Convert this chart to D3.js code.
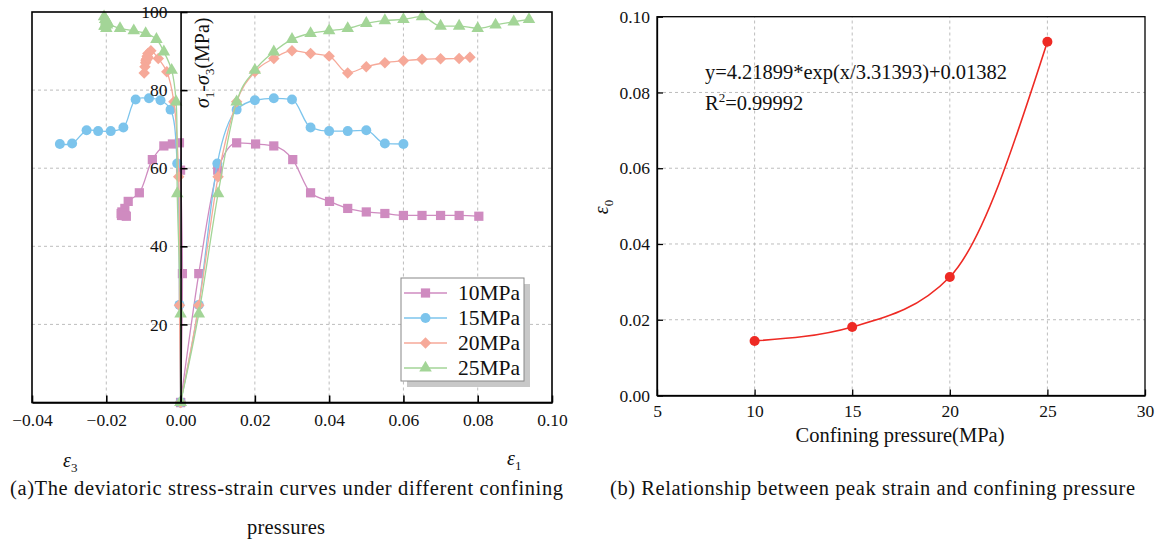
<!DOCTYPE html>
<html><head><meta charset="utf-8">
<script src="https://cdn.jsdelivr.net/npm/d3@7"></script>
<style>
html,body{margin:0;padding:0;background:#fff;}
svg{display:block;}
svg text{font-family:"Liberation Serif","Times New Roman",serif !important;}
</style></head><body>
<svg id="c" width="1158" height="539"></svg>
<script>
// ---------- data: (a) deviatoric stress-strain ----------
const pressures = ["10MPa", "15MPa", "20MPa", "25MPa"];
const colors = ["#cf8bc0", "#7cc4ec", "#f6a999", "#a3d597"];

const stress10 = [0, 33.0, 59.5, 66.5, 66.2, 65.7, 62.2, 53.7, 51.5, 49.7, 48.8, 48.4, 47.9, 47.9, 47.9, 47.9, 47.7];
const eps1_10  = [0, 0.0049, 0.0100, 0.0151, 0.0202, 0.0251, 0.0302, 0.0350, 0.0401, 0.0450, 0.0500, 0.0550, 0.0600, 0.0650, 0.0700, 0.0750, 0.0803];
const eps3_10  = [0, 0.0005, 0.0000, -0.0003, -0.0022, -0.0045, -0.0076, -0.0111, -0.0141, -0.0150, -0.0158, -0.0160, -0.0159, -0.0156, -0.0152, -0.0149, -0.0146];

const stress15 = [0, 25.0, 61.2, 75.0, 77.4, 77.9, 77.6, 70.4, 69.5, 69.5, 69.7, 66.3, 66.2];
const eps1_15  = [0, 0.0049, 0.0099, 0.0151, 0.0200, 0.0251, 0.0300, 0.0350, 0.0400, 0.0450, 0.0500, 0.0550, 0.0600];
const eps3_15  = [0, -0.0003, -0.0009, -0.0027, -0.0054, -0.0085, -0.0121, -0.0154, -0.0188, -0.0222, -0.0253, -0.0292, -0.0325];

const stress20 = [0, 24.9, 57.8, 77.0, 84.7, 88.1, 90.1, 89.4, 88.7, 84.4, 86.0, 87.0, 87.5, 87.9, 88.0, 88.1, 88.4];
const eps1_20  = [0, 0.0049, 0.0101, 0.0151, 0.0200, 0.0251, 0.0300, 0.0350, 0.0400, 0.0450, 0.0500, 0.0550, 0.0600, 0.0650, 0.0700, 0.0750, 0.0779];
const eps3_20  = [0, -0.0003, -0.0005, -0.0018, -0.0037, -0.0060, -0.0080, -0.0088, -0.0090, -0.0098, -0.0096, -0.0094, -0.0093, -0.0092, -0.0090, -0.0089, -0.0088];

const stress25 = [0, 22.7, 53.5, 77.0, 85.1, 89.8, 93.0, 94.5, 95.2, 95.8, 97.1, 97.8, 98.1, 98.8, 96.4, 96.4, 95.8, 96.7, 97.5, 98.1];
const eps1_25  = [0, 0.0049, 0.0101, 0.0151, 0.0200, 0.0251, 0.0300, 0.0350, 0.0400, 0.0450, 0.0500, 0.0550, 0.0600, 0.0650, 0.0700, 0.0750, 0.0800, 0.0848, 0.0897, 0.0938];
const eps3_25  = [0, 0.0000, -0.0009, -0.0012, -0.0024, -0.0045, -0.0065, -0.0094, -0.0126, -0.0163, -0.0195, -0.0200, -0.0203, -0.0206, -0.0205, -0.0203, -0.0200, -0.0198, -0.0200, -0.0202];

const strainTicks = [-0.04, -0.02, 0.00, 0.02, 0.04, 0.06, 0.08, 0.10];
const stressTicks = [20, 40, 60, 80, 100];

// ---------- data: (b) peak strain vs confining pressure ----------
const confining = [10, 15, 20, 25];
const peakStrain = [0.0144, 0.0181, 0.0313, 0.0934];
const pressureTicks = [5, 10, 15, 20, 25, 30];
const peakTicks = [0.00, 0.02, 0.04, 0.06, 0.08, 0.10];

// ---------- drawing ----------
const svg = d3.select("#c");
svg.append("rect").attr("width", 1158).attr("height", 539).attr("fill", "#fff");

const FAM = '"Liberation Serif","Times New Roman",serif';
const gridStyle = g => g.attr("stroke", "#bdbdbd").attr("stroke-width", 1).attr("stroke-dasharray", "3,3");

// ===== chart (a) =====
const xa = d3.scaleLinear().domain([-0.04, 0.10]).range([32, 552]);
const ya = d3.scaleLinear().domain([0, 100]).range([402.5, 12]);
const A = svg.append("g");

A.append("g").selectAll("line").data(strainTicks.filter(d => d > -0.04 && d < 0.10 && Math.abs(d) > 1e-9))
  .join("line").attr("x1", d => xa(d)).attr("x2", d => xa(d)).attr("y1", ya(0)).attr("y2", ya(100)).call(gridStyle);
A.append("g").selectAll("line").data(stressTicks.filter(d => d < 100))
  .join("line").attr("x1", xa(-0.04)).attr("x2", xa(0.10)).attr("y1", d => ya(d)).attr("y2", d => ya(d)).call(gridStyle);

const seriesA = [
  {name: pressures[0], color: colors[0], s: stress10, e1: eps1_10, e3: eps3_10, sym: "square"},
  {name: pressures[1], color: colors[1], s: stress15, e1: eps1_15, e3: eps3_15, sym: "circle"},
  {name: pressures[2], color: colors[2], s: stress20, e1: eps1_20, e3: eps3_20, sym: "diamond"},
  {name: pressures[3], color: colors[3], s: stress25, e1: eps1_25, e3: eps3_25, sym: "triangle"}
];
function symPath(t) {
  if (t === "square") return d3.symbol(d3.symbolSquare, 85)();
  if (t === "circle") return d3.symbol(d3.symbolCircle, 78)();
  if (t === "diamond") return d3.symbol(d3.symbolSquare, 66)();
  return d3.symbol(d3.symbolTriangle, 68)();
}
function symRot(t) { return t === "diamond" ? " rotate(45)" : ""; }

const line1 = d3.line().x(d => xa(d[0])).y(d => ya(d[1])).curve(d3.curveMonotoneX);
const line3 = d3.line().x(d => xa(d[0])).y(d => ya(d[1])).curve(d3.curveCatmullRom.alpha(0.5));

seriesA.forEach(S => {
  const p1 = S.s.map((v, i) => [S.e1[i], v]);
  const p3 = S.s.map((v, i) => [S.e3[i], v]);
  const g = A.append("g");
  g.append("path").attr("d", line1(p1)).attr("fill", "none").attr("stroke", S.color).attr("stroke-width", 1.3);
  g.append("path").attr("d", line3(p3)).attr("fill", "none").attr("stroke", S.color).attr("stroke-width", 1.3);
  const path = symPath(S.sym);
  g.selectAll("path.m1").data(p1).join("path").attr("class", "m1").attr("d", path)
    .attr("transform", d => `translate(${xa(d[0])},${ya(d[1])})` + symRot(S.sym)).attr("fill", S.color);
  g.selectAll("path.m3").data(p3).join("path").attr("class", "m3").attr("d", path)
    .attr("transform", d => `translate(${xa(d[0])},${ya(d[1])})` + symRot(S.sym)).attr("fill", S.color);
});

A.append("rect").attr("x", xa(-0.04)).attr("y", ya(100)).attr("width", xa(0.10) - xa(-0.04)).attr("height", ya(0) - ya(100))
  .attr("fill", "none").attr("stroke", "#000").attr("stroke-width", 1.6);

const xAxisA = A.append("g").attr("transform", `translate(0,${ya(0)})`)
  .call(d3.axisBottom(xa).tickValues(strainTicks).tickFormat(d3.format(".2f")).tickSizeInner(-7).tickSizeOuter(0).tickPadding(11));
xAxisA.attr("font-family", FAM).attr("font-size", 17.5);
xAxisA.select(".domain").attr("stroke-width", 1.6);
xAxisA.selectAll(".tick line").attr("stroke-width", 1.6);
xAxisA.selectAll("text").attr("fill", "#111");

const yAxisA = A.append("g").attr("transform", `translate(${xa(0)},0)`)
  .call(d3.axisLeft(ya).tickValues(stressTicks).tickSizeInner(-7).tickSizeOuter(0).tickPadding(13));
yAxisA.attr("font-family", FAM).attr("font-size", 17.5);
yAxisA.select(".domain").attr("stroke-width", 1.6);
yAxisA.selectAll(".tick line").attr("stroke-width", 1.6);
yAxisA.selectAll("text").attr("fill", "#111");

const yl = A.append("text").attr("transform", `translate(${xa(0) + 28},${ya(87)}) rotate(-90)`)
  .attr("text-anchor", "middle").attr("font-size", 20).attr("font-family", FAM).attr("fill", "#111");
yl.append("tspan").attr("font-style", "italic").text("σ");
yl.append("tspan").attr("font-size", 13).attr("dy", 5).text("1");
yl.append("tspan").attr("dy", -5).text("-");
yl.append("tspan").attr("font-style", "italic").text("σ");
yl.append("tspan").attr("font-size", 13).attr("dy", 5).text("3");
yl.append("tspan").attr("dy", -5).text("(MPa)");

function epsLabel(g, x, y, sub) {
  const t = g.append("text").attr("x", x).attr("y", y).attr("font-size", 20).attr("font-family", FAM).attr("fill", "#111");
  t.append("tspan").attr("font-style", "italic").text("ε");
  t.append("tspan").attr("font-size", 13).attr("dy", 5).text(sub);
}
epsLabel(A, 63, 467, "3");
epsLabel(A, 507, 465, "1");

const L = A.append("g").attr("transform", "translate(401,278)");
L.append("rect").attr("x", 6).attr("y", 6).attr("width", 123).attr("height", 103).attr("fill", "#c8c8c8");
L.append("rect").attr("x", 0).attr("y", 0).attr("width", 123).attr("height", 103).attr("fill", "#fff").attr("stroke", "#888").attr("stroke-width", 1);
seriesA.forEach((S, i) => {
  const yy = 15 + i * 25;
  L.append("line").attr("x1", 3).attr("x2", 46).attr("y1", yy).attr("y2", yy).attr("stroke", S.color).attr("stroke-width", 1.3);
  L.append("path").attr("d", symPath(S.sym)).attr("transform", `translate(24.5,${yy})` + symRot(S.sym)).attr("fill", S.color);
  L.append("text").attr("x", 57).attr("y", yy + 7).attr("font-size", 21.5).attr("font-family", FAM).attr("fill", "#111").text(S.name);
});

// ===== chart (b) =====
const xb = d3.scaleLinear().domain([5, 30]).range([657, 1145]);
const yb = d3.scaleLinear().domain([0, 0.10]).range([395.5, 16.7]);
const B = svg.append("g");

B.append("g").selectAll("line").data(pressureTicks.filter(d => d > 5 && d < 30))
  .join("line").attr("x1", d => xb(d)).attr("x2", d => xb(d)).attr("y1", yb(0)).attr("y2", yb(0.10)).call(gridStyle);
B.append("g").selectAll("line").data(peakTicks.filter(d => d > 0 && d < 0.099))
  .join("line").attr("x1", xb(5)).attr("x2", xb(30)).attr("y1", d => yb(d)).attr("y2", d => yb(d)).call(gridStyle);

const pb = confining.map((v, i) => [v, peakStrain[i]]);
B.append("path").attr("d", d3.line().x(d => xb(d[0])).y(d => yb(d[1])).curve(d3.curveMonotoneX)(pb))
  .attr("fill", "none").attr("stroke", "#ee2a24").attr("stroke-width", 1.6);
B.selectAll("circle.p").data(pb).join("circle").attr("class", "p")
  .attr("cx", d => xb(d[0])).attr("cy", d => yb(d[1])).attr("r", 5).attr("fill", "#ee2a24");

B.append("rect").attr("x", xb(5)).attr("y", yb(0.10)).attr("width", xb(30) - xb(5)).attr("height", yb(0) - yb(0.10))
  .attr("fill", "none").attr("stroke", "#000").attr("stroke-width", 1.3);

const xAxisB = B.append("g").attr("transform", `translate(0,${yb(0)})`)
  .call(d3.axisBottom(xb).tickValues(pressureTicks).tickFormat(d3.format("d")).tickSizeInner(-6).tickSizeOuter(0).tickPadding(9));
xAxisB.attr("font-family", FAM).attr("font-size", 17.5);
xAxisB.select(".domain").attr("stroke-width", 1.3);
xAxisB.selectAll(".tick line").attr("stroke-width", 1.3);
xAxisB.selectAll("text").attr("fill", "#111");

const yAxisB = B.append("g").attr("transform", `translate(${xb(5)},0)`)
  .call(d3.axisLeft(yb).tickValues(peakTicks).tickFormat(d3.format(".2f")).tickSizeInner(-6).tickSizeOuter(0).tickPadding(7));
yAxisB.attr("font-family", FAM).attr("font-size", 17.5);
yAxisB.select(".domain").attr("stroke-width", 1.3);
yAxisB.selectAll(".tick line").attr("stroke-width", 1.3);
yAxisB.selectAll("text").attr("fill", "#111");

B.append("text").attr("x", 900).attr("y", 442).attr("text-anchor", "middle")
  .attr("font-size", 20.5).attr("font-family", FAM).attr("fill", "#111").text("Confining pressure(MPa)");

const yb2 = B.append("text").attr("transform", `translate(608,207) rotate(-90)`).attr("text-anchor", "middle")
  .attr("font-size", 20).attr("font-family", FAM).attr("fill", "#111");
yb2.append("tspan").attr("font-style", "italic").text("ε");
yb2.append("tspan").attr("font-size", 13).attr("dy", 5).text("0");

B.append("text").attr("x", 705).attr("y", 79).attr("font-size", 20.5).attr("font-family", FAM).attr("fill", "#111")
  .attr("textLength", 302).attr("lengthAdjust", "spacing")
  .text("y=4.21899*exp(x/3.31393)+0.01382");
const r2 = B.append("text").attr("x", 705).attr("y", 110).attr("font-size", 20.5).attr("font-family", FAM).attr("fill", "#111");
r2.append("tspan").text("R");
r2.append("tspan").attr("font-size", 13).attr("dy", -8).text("2");
r2.append("tspan").attr("dy", 8).text("=0.99992");

// captions
function caption(x, y, len, txt) {
  const t = svg.append("text").attr("x", x).attr("y", y).attr("font-size", 20.5).attr("font-family", FAM).attr("fill", "#111").text(txt);
  if (len) t.attr("textLength", len).attr("lengthAdjust", "spacing");
  return t;
}
caption(10, 495, 553, "(a)The deviatoric stress-strain curves under different confining");
caption(247, 534, 78, "pressures");
caption(610, 495, 525, "(b) Relationship between peak strain and confining pressure");
</script>
</body></html>
